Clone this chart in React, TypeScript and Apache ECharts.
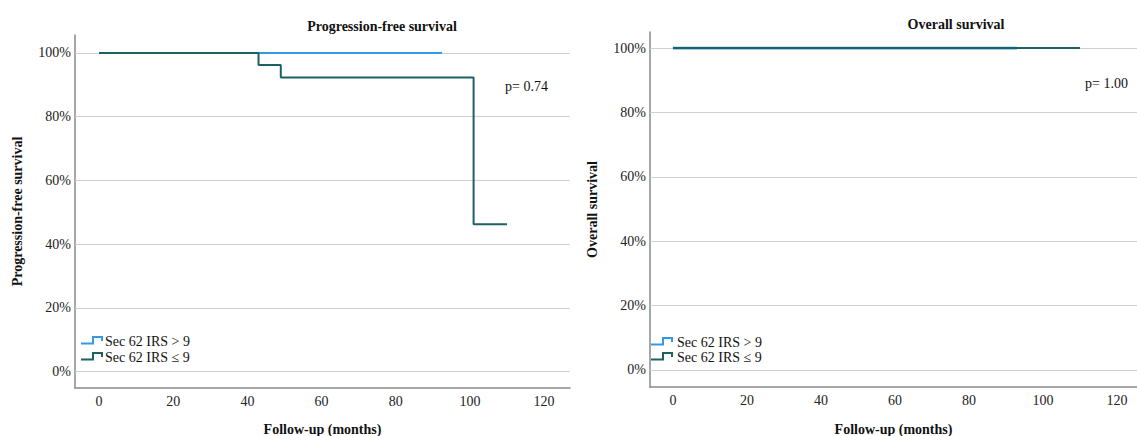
import React, { useEffect, useRef } from "react";
import * as echarts from "echarts";

// ---- data ----
const pctTicks = [0, 20, 40, 60, 80, 100];
const monthTicks = [0, 20, 40, 60, 80, 100, 120];

// Progression-free survival
const pfsHighTimes = [0, 92.5];
const pfsHighSurv = [100, 100];
const pfsLowTimes = [0, 43, 49, 101, 110];
const pfsLowSurv = [100, 96.2, 92.3, 46.2, 46.2];

// Overall survival
const osHighTimes = [0, 93];
const osHighSurv = [100, 100];
const osLowTimes = [0, 110];
const osLowSurv = [100, 100];

const groupNames = ["Sec 62 IRS > 9", "Sec 62 IRS \u2264 9"];
const pValues = ["p= 0.74", "p= 1.00"];
const panelTitles = ["Progression-free survival", "Overall survival"];
const xName = "Follow-up (months)";

const BLUE = "#3399e6";
const DARK = "#1d6262";
const FONT = "'Liberation Serif', 'Times New Roman', serif";
const FS = 14;

const zip = (xs: number[], ys: number[]) => xs.map((x, i) => [x, ys[i]]);

function legendGraphic(x0: number, y0: number, color: string, text: string, textX: number) {
  return {
    type: "group",
    children: [
      {
        type: "polyline",
        shape: {
          points: [
            [x0, y0 + 2.5],
            [x0 + 12, y0 + 2.5],
            [x0 + 12, y0 - 4],
            [x0 + 21, y0 - 4],
            [x0 + 21, y0],
          ],
        },
        style: { stroke: color, lineWidth: 2, fill: null },
      },
      {
        type: "text",
        x: textX,
        y: y0,
        style: {
          text,
          font: `${FS}px ${FONT}`,
          fill: "#111",
          verticalAlign: "middle",
        },
      },
    ],
  };
}

export default function App() {
  const ref = useRef<HTMLDivElement>(null);
  useEffect(() => {
    document.body.style.margin = "0";
    const chart = echarts.init(ref.current!, null, { renderer: "svg" });

    const axisLabelY = {
      customValues: pctTicks,
      formatter: (v: number) => `${v}%`,
      color: "#222",
      fontSize: FS,
      fontFamily: FONT,
      margin: 4,
    };
    const axisLabelX = {
      customValues: monthTicks,
      color: "#222",
      fontSize: FS,
      fontFamily: FONT,
      margin: 6,
    };
    const axisLine = { show: true, onZero: false, lineStyle: { color: "#8a8a8a", width: 1.5 } };
    const nameStyle = { fontFamily: FONT, fontSize: FS, fontWeight: "bold", color: "#111" };

    const gridMark = {
      silent: true,
      z: 1,
      symbol: ["none", "none"],
      label: { show: false },
      lineStyle: { color: "#d0d0d0", width: 1, type: "solid" },
      data: pctTicks.map((v) => ({ yAxis: v })),
    };

    chart.setOption({
      animation: false,
      backgroundColor: "#ffffff",
      title: [
        {
          text: panelTitles[0],
          left: 377,
          top: 14,
          textAlign: "center",
          textStyle: { fontFamily: FONT, fontSize: FS, fontWeight: "bold", color: "#111" },
        },
        {
          text: panelTitles[1],
          left: 951,
          top: 12,
          textAlign: "center",
          textStyle: { fontFamily: FONT, fontSize: FS, fontWeight: "bold", color: "#111" },
        },
      ],
      grid: [
        { left: 75, top: 35, width: 495, height: 353, outerBoundsMode: "none", containLabel: false },
        { left: 650, top: 32, width: 487, height: 355, outerBoundsMode: "none", containLabel: false },
      ],
      xAxis: [
        {
          type: "value",
          gridIndex: 0,
          min: -6.5,
          max: 127,
          axisLine,
          axisTick: { show: false },
          splitLine: { show: false },
          axisLabel: axisLabelX,
          name: xName,
          nameLocation: "middle",
          nameGap: 34,
          nameTextStyle: nameStyle,
        },
        {
          type: "value",
          gridIndex: 1,
          min: -6.2,
          max: 125.4,
          axisLine,
          axisTick: { show: false },
          splitLine: { show: false },
          axisLabel: axisLabelX,
          name: xName,
          nameLocation: "middle",
          nameGap: 35,
          nameTextStyle: nameStyle,
        },
      ],
      yAxis: [
        {
          type: "value",
          gridIndex: 0,
          min: -5.2,
          max: 105.65,
          axisLine,
          axisTick: { show: false },
          splitLine: { show: false },
          axisLabel: axisLabelY,
          name: panelTitles[0],
          nameLocation: "middle",
          nameRotate: 90,
          nameGap: 51,
          nameTextStyle: nameStyle,
        },
        {
          type: "value",
          gridIndex: 1,
          min: -5.3,
          max: 105,
          axisLine,
          axisTick: { show: false },
          splitLine: { show: false },
          axisLabel: axisLabelY,
          name: panelTitles[1],
          nameLocation: "middle",
          nameRotate: 90,
          nameGap: 51,
          nameTextStyle: nameStyle,
        },
      ],
      series: [
        {
          type: "line",
          xAxisIndex: 0,
          yAxisIndex: 0,
          data: [],
          z: 1,
          markLine: gridMark,
        },
        {
          type: "line",
          xAxisIndex: 1,
          yAxisIndex: 1,
          data: [],
          z: 1,
          markLine: gridMark,
        },
        {
          name: groupNames[0],
          type: "line",
          step: "end",
          xAxisIndex: 0,
          yAxisIndex: 0,
          data: zip(pfsHighTimes, pfsHighSurv),
          showSymbol: false,
          lineStyle: { color: BLUE, width: 2 },
          z: 3,
        },
        {
          name: groupNames[1],
          type: "line",
          step: "end",
          xAxisIndex: 0,
          yAxisIndex: 0,
          data: zip(pfsLowTimes, pfsLowSurv),
          showSymbol: false,
          lineStyle: { color: DARK, width: 2 },
          z: 4,
        },
        {
          name: groupNames[0],
          type: "line",
          step: "end",
          xAxisIndex: 1,
          yAxisIndex: 1,
          data: zip(osHighTimes, osHighSurv),
          showSymbol: false,
          lineStyle: { color: BLUE, width: 2.6 },
          z: 3,
        },
        {
          name: groupNames[1],
          type: "line",
          step: "end",
          xAxisIndex: 1,
          yAxisIndex: 1,
          data: zip(osLowTimes, osLowSurv),
          showSymbol: false,
          lineStyle: { color: DARK, width: 2 },
          z: 4,
        },
      ],
      graphic: [
        legendGraphic(81, 341, BLUE, groupNames[0], 105),
        legendGraphic(81, 357, DARK, groupNames[1], 105),
        legendGraphic(651, 342, BLUE, groupNames[0], 677),
        legendGraphic(651, 357, DARK, groupNames[1], 677),
        {
          type: "text",
          x: 505,
          y: 86,
          style: { text: pValues[0], font: `${FS}px ${FONT}`, fill: "#111", verticalAlign: "middle" },
        },
        {
          type: "text",
          x: 1085,
          y: 83,
          style: { text: pValues[1], font: `${FS}px ${FONT}`, fill: "#111", verticalAlign: "middle" },
        },
      ],
    });
    return () => chart.dispose();
  }, []);
  return (
    <div
      ref={ref}
      style={{ position: "fixed", left: 0, top: 0, width: 1137, height: 436 }}
    />
  );
}
